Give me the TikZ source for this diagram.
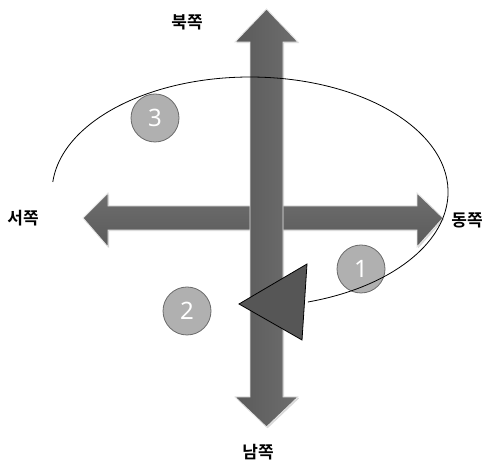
\documentclass[tikz,border=0pt]{standalone}
\usepackage{fontspec}
\newfontfamily\kr{Noto Sans CJK KR}[BoldFont={Noto Sans CJK KR Bold}]
\newfontfamily\numfont{Noto Sans}
\usetikzlibrary{shadows}
\definecolor{arrowdark}{HTML}{5A5A5A}
\definecolor{arrowlight}{HTML}{6E6E6E}
\definecolor{arrowedge}{HTML}{E4E4E4}
\definecolor{circfill}{HTML}{B0B0B0}
\definecolor{circline}{HTML}{6A6A6A}
\definecolor{tridark}{HTML}{565656}
\tikzset{
  bigarrow/.style={draw=arrowedge, line width=0.9pt, line join=miter,
    drop shadow={opacity=0.3, shadow xshift=1.2pt, shadow yshift=-1.2pt}},
  numcirc/.style={circle, minimum size=48pt, inner sep=0pt, fill=circfill,
    draw=circline, line width=0.8pt, text=white, font=\numfont\fontsize{24}{24}\selectfont},
  dirlabel/.style={font=\kr\bfseries\fontsize{17}{17}\selectfont, inner sep=0pt},
}
\begin{document}
\begin{tikzpicture}[x=1pt,y=1pt]
\useasboundingbox (0,0) rectangle (484,465);
% horizontal arrow
\path[bigarrow, top color=arrowlight, bottom color=arrowdark]
  (83,247) -- (108,272) -- (108,259) -- (417,259) -- (417,272) -- (443,247)
  -- (417,218) -- (417,235) -- (108,235) -- (108,218) -- cycle;
% vertical arrow
\path[bigarrow, left color=arrowdark, right color=arrowlight]
  (266.5,456) -- (298,423) -- (283,423) -- (283,68) -- (298,68) -- (266.5,38)
  -- (235,68) -- (250,68) -- (250,423) -- (235,423) -- cycle;
% circles
\node[numcirc] (c1) at (361,196) {1};
\node[numcirc] (c2) at (187,154) {2};
\node[numcirc] (c3) at (155,347) {3};
% rotation curve
\coordinate (cstart) at (52.8,283);
\draw[line width=0.8pt] (cstart) arc[start angle=175, end angle=-73, x radius=198, y radius=115] coordinate (cend);
% arrowhead triangle
\draw[fill=tridark, line width=0.8pt, line join=miter] (307,201) -- (239,161) -- (302,125) -- cycle;
% labels
\node[dirlabel] (north) at (187,443) {북쪽};
\node[dirlabel] (west) at (23,247) {서쪽};
\node[dirlabel] (east) at (467,245) {동쪽};
\node[dirlabel] (south) at (258,13) {남쪽};
\end{tikzpicture}
\end{document}
